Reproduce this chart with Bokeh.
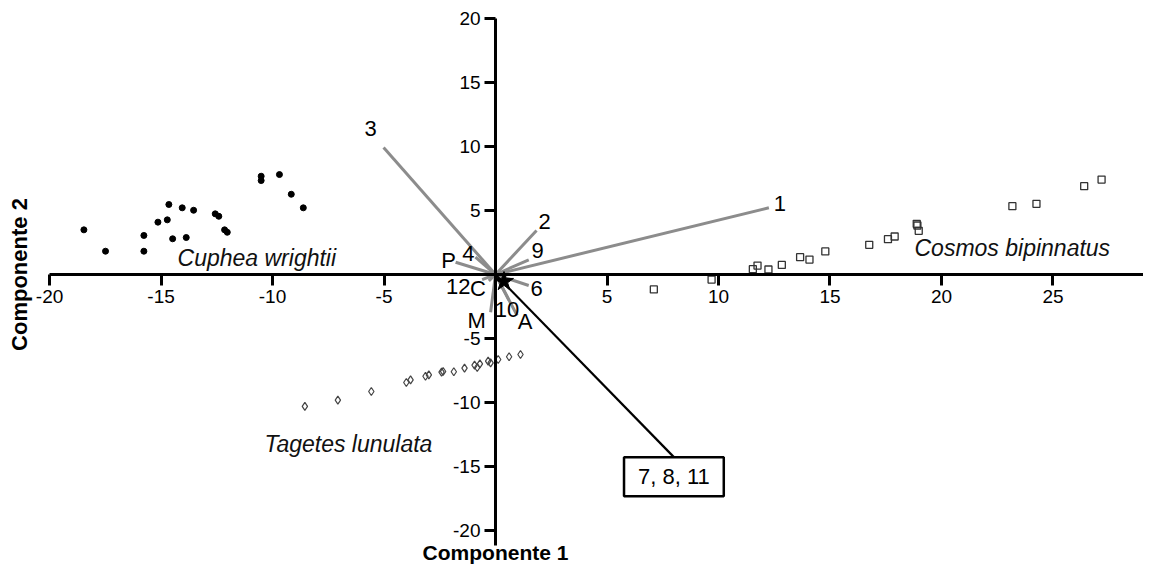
from math import pi
from bokeh.plotting import figure
from bokeh.models import LinearAxis, FixedTicker, Range1d, Label, ColumnDataSource
from bokeh.core.properties import value
from bokeh.embed import file_html
from bokeh.resources import INLINE

# ---------------- data ----------------
cuphea_x = [-18.46, -17.49, -15.77, -15.77, -15.14, -14.72, -14.65, -14.48, -14.05, -13.87,
            -13.54, -12.57, -12.41, -12.15, -12.03, -10.51, -10.51, -9.69, -9.16, -8.62]
cuphea_y = [3.49, 1.82, 3.05, 1.82, 4.09, 4.27, 5.47, 2.79, 5.21, 2.89,
            5.02, 4.74, 4.55, 3.49, 3.30, 7.68, 7.34, 7.81, 6.27, 5.21]

cosmos_x = [7.10, 9.69, 11.54, 11.75, 12.24, 12.84, 13.66, 14.08, 14.79, 16.76,
            17.60, 17.90, 18.89, 18.92, 18.98, 23.18, 24.26, 26.40, 27.18]
cosmos_y = [-1.17, -0.40, 0.42, 0.70, 0.39, 0.75, 1.35, 1.17, 1.80, 2.32,
            2.76, 2.97, 3.96, 3.83, 3.41, 5.34, 5.52, 6.90, 7.42]

tagetes_x = [-8.55, -7.07, -5.57, -4.00, -3.81, -3.14, -2.99, -2.42, -2.35, -1.87,
             -1.39, -0.94, -0.82, -0.70, -0.33, -0.22, 0.12, 0.61, 1.12]
tagetes_y = [-10.31, -9.82, -9.14, -8.44, -8.23, -7.95, -7.84, -7.63, -7.58, -7.60,
             -7.32, -7.08, -7.27, -6.98, -6.77, -6.90, -6.64, -6.43, -6.25]

load_names = ["1", "2", "3", "4", "P", "9", "6", "12", "C", "M", "10", "A"]
load_x = [12.26, 1.84, -5.02, -0.90, -1.79, 1.49, 1.49, -0.60, -0.30, -0.22, 0.60, 0.97]
load_y = [5.21, 3.44, 9.92, 1.35, 0.96, 1.15, -0.86, -0.40, -0.50, -2.95, -2.00, -3.20]

group_name = "7, 8, 11"
group_x = [8.0]
group_y = [-14.27]

centroid_x = [0.38]
centroid_y = [-0.55]

species = ["Cuphea wrightii", "Cosmos bipinnatus", "Tagetes lunulata"]
species_x = [-14.26, 18.79, -2.83]
species_y = [0.70, 1.43, -13.90]
species_align = ["left", "left", "right"]

x_ticks = [-20, -15, -10, -5, 5, 10, 15, 20, 25]
x_tick_labels = ["-20", "-15", "-10", "-5", "5", "10", "15", "20", "25"]
y_ticks = [-20, -15, -10, -5, 5, 10, 15, 20]
y_tick_labels = ["-20", "-15", "-10", "-5", "5", "10", "15", "20"]

x_title = "Componente 1"
y_title = "Componente 2"

# label offsets (screen px) for the loading labels
lab_dx = [11, 8, -13, -7, -7, 9, 8, -24, -11, -14, -2, 8]
lab_dy = [-4, -9, -19, -4, -2, -9, 2.5, 7, 8, 8, 9, 6.5]

FONT = "Liberation Sans"
LABEL_FIX = 8  # compensates the downward shift of Label annotations

X_RANGE = (-22.20, 29.06)
Y_RANGE = (-22.66, 21.41)

p = figure(width=1143, height=564,
           x_range=Range1d(*X_RANGE), y_range=Range1d(*Y_RANGE),
           x_axis_type=None, y_axis_type=None,
           output_backend="svg", toolbar_location=None,
           min_border_left=0, min_border_right=0,
           min_border_top=0, min_border_bottom=0)
p.outline_line_color = None
p.background_fill_color = "white"

# axes crossing at origin
xa = LinearAxis(fixed_location=0, ticker=FixedTicker(ticks=x_ticks), bounds=(-20, 30))
xa.major_label_overrides = {t: l for t, l in zip(x_ticks, x_tick_labels)}
ya = LinearAxis(fixed_location=0, ticker=FixedTicker(ticks=y_ticks), bounds=(-21.2, 20))
ya.major_label_overrides = {t: l for t, l in zip(y_ticks, y_tick_labels)}
for ax in (xa, ya):
    ax.axis_line_width = 3
    ax.axis_line_color = "black"
    ax.major_tick_line_width = 3
    ax.major_tick_line_color = "black"
    ax.major_tick_out = 11
    ax.major_tick_in = 0
    ax.minor_tick_line_color = None
    ax.major_label_text_font = FONT
    ax.major_label_text_font_size = "19px"
    ax.major_label_text_color = "black"
    ax.major_label_standoff = 4
p.add_layout(xa, "below")
p.add_layout(ya, "left")

# scatter groups
p.scatter(cuphea_x, cuphea_y, marker="circle", size=6, fill_color="black", line_color="black")
p.scatter(cosmos_x, cosmos_y, marker="square", size=7, fill_color=None,
          line_color="#333333", line_width=1.3)
p.scatter(tagetes_x, tagetes_y, marker="diamond", size=8, fill_color=None,
          line_color="#444444", line_width=1.2)

# loading vectors
src = ColumnDataSource(dict(x0=[0] * len(load_x), y0=[0] * len(load_y), x1=load_x, y1=load_y,
                            name=load_names, dx=lab_dx, dy=lab_dy))
p.segment("x0", "y0", "x1", "y1", source=src, line_color="#8c8c8c", line_width=3)
p.text("x1", "y1", text="name", source=src, x_offset="dx", y_offset="dy",
       text_align="center", text_baseline="middle",
       text_font=value(FONT), text_font_size="22px", text_color="black")

p.segment([0], [0], group_x, group_y, line_color="black", line_width=2.2)
p.add_layout(Label(x=group_x[0], y=group_y[0], text=group_name,
                   text_align="center", text_baseline="top", y_offset=-8 + LABEL_FIX,
                   text_font=FONT, text_font_size="22px", text_color="black",
                   background_fill_color="white", border_line_color="black",
                   border_line_width=2.5, padding=dict(left=14, right=14, top=7, bottom=7)))

star = p.scatter(centroid_x, centroid_y, marker="star", size=20, fill_color="black",
                 line_color="black")
star.level = "overlay"

# species labels
for name, sx, sy, al in zip(species, species_x, species_y, species_align):
    p.add_layout(Label(x=sx, y=sy, y_offset=LABEL_FIX, text=name, text_align=al,
                       text_baseline="alphabetic",
                       text_font=FONT, text_font_size="23px", text_font_style="italic",
                       text_color="#111111"))

# axis titles
p.add_layout(Label(x=-20, y=0, x_offset=-30, angle=pi / 2, text=y_title,
                   text_align="center", text_baseline="middle",
                   text_font=FONT, text_font_size="22px", text_font_style="bold",
                   text_color="black"))
p.add_layout(Label(x=0, y=Y_RANGE[0], y_offset=3 + LABEL_FIX + 1, text=x_title,
                   text_align="center", text_baseline="alphabetic",
                   text_font=FONT, text_font_size="21px", text_font_style="bold",
                   text_color="black"))

open("out.html", "w").write(file_html(p, INLINE))
